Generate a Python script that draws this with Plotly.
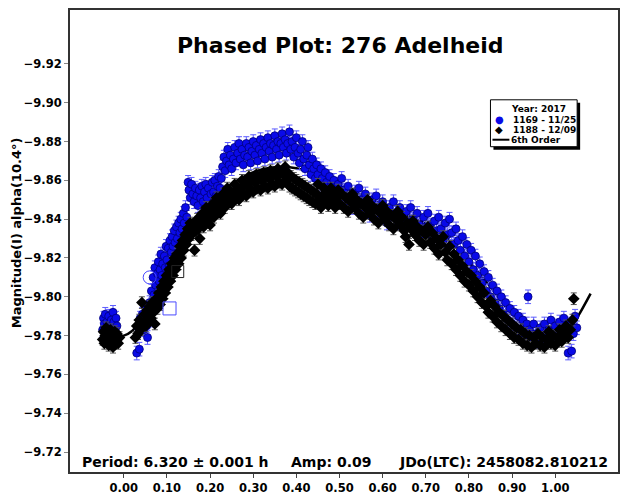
import plotly.graph_objects as go

# ---------------- data ----------------
blue_phase = [-0.049, -0.047, -0.045, -0.043, -0.041, -0.039, -0.037, -0.035, -0.033, -0.031, -0.029, -0.027, -0.025, -0.023, -0.020, -0.018, -0.016,
              0.030, 0.034, 0.036, 0.038, 0.041, 0.043, 0.046, 0.048, 0.051, 0.053, 0.055, 0.058, 0.060, 0.062, 0.064, 0.066, 0.068, 0.070,
              0.072, 0.074, 0.076, 0.078, 0.080, 0.082, 0.084, 0.086, 0.088, 0.090, 0.092, 0.094, 0.096, 0.098, 0.100,
              0.103, 0.105, 0.107, 0.110, 0.112, 0.114, 0.117, 0.119, 0.122, 0.124, 0.127, 0.130, 0.132, 0.135, 0.138, 0.140, 0.143, 0.146,
              0.149, 0.151, 0.154, 0.157, 0.160, 0.163, 0.166, 0.169, 0.172, 0.175, 0.178, 0.181, 0.184, 0.187, 0.190, 0.193, 0.196, 0.199,
              0.202, 0.205, 0.208, 0.211, 0.214, 0.217, 0.220, 0.223, 0.226, 0.229, 0.232, 0.235, 0.238, 0.241, 0.244, 0.247, 0.250,
              0.254, 0.257, 0.260, 0.264, 0.267, 0.270, 0.274, 0.277, 0.280, 0.284, 0.287, 0.290, 0.294, 0.297, 0.300, 0.304, 0.307, 0.310,
              0.314, 0.317, 0.320, 0.324, 0.327, 0.330, 0.334, 0.337, 0.340, 0.344, 0.347, 0.350, 0.354, 0.357, 0.360, 0.364, 0.367, 0.370,
              0.374, 0.377, 0.380, 0.384, 0.387, 0.390, 0.394, 0.397, 0.400, 0.404, 0.407, 0.410, 0.414, 0.417, 0.420, 0.424, 0.427, 0.430,
              0.434, 0.437, 0.440, 0.444, 0.447, 0.450, 0.454, 0.457, 0.460, 0.464, 0.467, 0.470, 0.474, 0.477, 0.480, 0.484, 0.487, 0.490,
              0.494, 0.497, 0.500, 0.505, 0.510, 0.515, 0.520, 0.525, 0.530, 0.535, 0.540, 0.545, 0.550, 0.555, 0.560, 0.565, 0.570, 0.575,
              0.580, 0.585, 0.590, 0.595, 0.600, 0.605, 0.610, 0.615, 0.620, 0.625, 0.630, 0.635, 0.640, 0.645, 0.650, 0.655, 0.660, 0.665,
              0.670, 0.675, 0.680, 0.685, 0.690, 0.695, 0.700, 0.705, 0.710, 0.715, 0.720, 0.725, 0.730, 0.735, 0.740, 0.745, 0.750, 0.755,
              0.760, 0.765, 0.770, 0.775, 0.780, 0.785, 0.790, 0.795, 0.800, 0.805, 0.810, 0.815, 0.820, 0.825, 0.830, 0.835, 0.840, 0.845,
              0.850, 0.855, 0.860, 0.865, 0.870, 0.875, 0.880, 0.885, 0.890, 0.895, 0.900, 0.905, 0.910, 0.915, 0.920, 0.925, 0.930, 0.934,
              0.937, 0.940, 0.945, 0.950, 0.955, 0.960, 0.965, 0.970, 0.975, 0.980, 0.985, 0.990, 0.995, 1.000, 1.005, 1.010, 1.015, 1.020,
              1.025, 1.030, 1.034, 1.038, 1.042, 1.046, 1.050]
blue_mag = [-9.783, -9.789, -9.786, -9.791, -9.782, -9.787, -9.784, -9.790, -9.786, -9.781, -9.788, -9.785, -9.792, -9.787, -9.783, -9.789, -9.785,
            -9.771, -9.784, -9.773, -9.789, -9.786, -9.791, -9.783, -9.788, -9.794, -9.785, -9.779, -9.792, -9.797, -9.788, -9.803, -9.796, -9.810, -9.801,
            -9.815, -9.806, -9.798, -9.812, -9.818, -9.808, -9.814, -9.822, -9.811, -9.817, -9.806, -9.821, -9.815, -9.826, -9.819,
            -9.825, -9.816, -9.829, -9.823, -9.831, -9.826, -9.834, -9.828, -9.836, -9.830, -9.838, -9.833, -9.840, -9.835, -9.843, -9.838, -9.846, -9.841,
            -9.859, -9.855, -9.851, -9.858, -9.853, -9.849, -9.856, -9.852, -9.847, -9.855, -9.851, -9.857, -9.849, -9.854, -9.858, -9.851, -9.856, -9.846,
            -9.853, -9.859, -9.854, -9.860, -9.852, -9.857, -9.862, -9.856, -9.861, -9.867, -9.872, -9.865, -9.870, -9.876, -9.868, -9.873, -9.866,
            -9.871, -9.877, -9.869, -9.874, -9.879, -9.871, -9.876, -9.868, -9.873, -9.879, -9.872, -9.877, -9.869, -9.875, -9.880, -9.873, -9.878, -9.870,
            -9.876, -9.881, -9.874, -9.879, -9.871, -9.877, -9.882, -9.875, -9.879, -9.872, -9.878, -9.883, -9.876, -9.880, -9.873, -9.879, -9.884, -9.877,
            -9.881, -9.874, -9.879, -9.885, -9.876, -9.880, -9.872, -9.877, -9.882, -9.874, -9.869, -9.876, -9.880, -9.871, -9.866, -9.873, -9.877, -9.868,
            -9.863, -9.871, -9.866, -9.861, -9.868, -9.863, -9.858, -9.866, -9.861, -9.856, -9.864, -9.859, -9.854, -9.862, -9.857, -9.852, -9.860, -9.855,
            -9.850, -9.858, -9.853, -9.861, -9.855, -9.849, -9.857, -9.852, -9.846, -9.854, -9.849, -9.856, -9.850, -9.845, -9.853, -9.847, -9.842, -9.850,
            -9.845, -9.852, -9.846, -9.841, -9.849, -9.843, -9.838, -9.846, -9.841, -9.849, -9.843, -9.838, -9.846, -9.840, -9.835, -9.844, -9.839, -9.846,
            -9.840, -9.835, -9.843, -9.837, -9.832, -9.841, -9.836, -9.843, -9.837, -9.831, -9.839, -9.834, -9.841, -9.835, -9.829, -9.838, -9.832, -9.840,
            -9.833, -9.827, -9.835, -9.829, -9.824, -9.831, -9.821, -9.827, -9.818, -9.824, -9.814, -9.821, -9.811, -9.817, -9.807, -9.813, -9.803, -9.810,
            -9.800, -9.806, -9.797, -9.803, -9.794, -9.800, -9.791, -9.797, -9.788, -9.794, -9.786, -9.792, -9.784, -9.790, -9.782, -9.788, -9.780, -9.786,
            -9.800, -9.783, -9.779, -9.786, -9.781, -9.777, -9.784, -9.780, -9.786, -9.778, -9.783, -9.788, -9.780, -9.785, -9.779, -9.787, -9.782, -9.789,
            -9.784, -9.771, -9.786, -9.772, -9.781, -9.790, -9.784]

black_phase = [-0.049, -0.047, -0.045, -0.043, -0.041, -0.039, -0.037, -0.035, -0.033, -0.031, -0.029, -0.027, -0.025, -0.023, -0.021, -0.019, -0.016, -0.013, -0.010,
               0.027, 0.030, 0.033, 0.036, 0.039, 0.042, 0.045, 0.048, 0.051, 0.054, 0.057, 0.060, 0.063, 0.066, 0.069, 0.072, 0.075, 0.078,
               0.081, 0.084, 0.087, 0.090, 0.093, 0.096, 0.099, 0.102, 0.105, 0.108, 0.111, 0.114, 0.117, 0.120, 0.123, 0.127, 0.130, 0.133,
               0.136, 0.139, 0.142, 0.145, 0.148, 0.151, 0.154, 0.157, 0.160, 0.164, 0.167, 0.170, 0.173, 0.176, 0.179, 0.182, 0.185, 0.188,
               0.191, 0.194, 0.197, 0.200, 0.203, 0.206, 0.209, 0.212, 0.215, 0.218, 0.221, 0.224, 0.227, 0.230, 0.234, 0.237, 0.240, 0.244,
               0.247, 0.250, 0.254, 0.257, 0.260, 0.264, 0.267, 0.270, 0.274, 0.277, 0.280, 0.284, 0.287, 0.290, 0.294, 0.297, 0.300, 0.304,
               0.307, 0.310, 0.314, 0.317, 0.320, 0.324, 0.327, 0.330, 0.334, 0.337, 0.340, 0.344, 0.347, 0.350, 0.354, 0.357, 0.360, 0.364,
               0.367, 0.370, 0.374, 0.377, 0.380, 0.384, 0.387, 0.390, 0.394, 0.397, 0.400, 0.404, 0.407, 0.410, 0.414, 0.417, 0.420, 0.424,
               0.427, 0.430, 0.434, 0.437, 0.440, 0.444, 0.447, 0.450, 0.454, 0.457, 0.460, 0.464, 0.467, 0.470, 0.474, 0.477, 0.480, 0.484,
               0.487, 0.490, 0.494, 0.497, 0.500, 0.505, 0.510, 0.515, 0.520, 0.525, 0.530, 0.535, 0.540, 0.545, 0.550, 0.555, 0.560, 0.565,
               0.570, 0.575, 0.580, 0.585, 0.590, 0.595, 0.600, 0.605, 0.610, 0.615, 0.620, 0.625, 0.630, 0.635, 0.640, 0.645, 0.650, 0.653,
               0.657, 0.661, 0.665, 0.670, 0.675, 0.680, 0.685, 0.690, 0.695, 0.700, 0.705, 0.710, 0.715, 0.720, 0.725, 0.730, 0.735, 0.740,
               0.745, 0.750, 0.755, 0.760, 0.765, 0.770, 0.775, 0.780, 0.785, 0.790, 0.795, 0.800, 0.805, 0.810, 0.815, 0.820, 0.825, 0.830,
               0.835, 0.840, 0.845, 0.850, 0.855, 0.860, 0.865, 0.870, 0.875, 0.880, 0.885, 0.890, 0.895, 0.900, 0.905, 0.910, 0.915, 0.920,
               0.925, 0.930, 0.935, 0.940, 0.945, 0.950, 0.955, 0.960, 0.965, 0.970, 0.975, 0.980, 0.985, 0.990, 0.995, 1.000, 1.005, 1.010,
               1.015, 1.020, 1.025, 1.030, 1.035, 1.040, 1.043]
black_mag = [-9.778, -9.782, -9.776, -9.780, -9.784, -9.777, -9.781, -9.775, -9.779, -9.783, -9.776, -9.780, -9.774, -9.778, -9.782, -9.777, -9.781, -9.776, -9.779,
             -9.779, -9.785, -9.781, -9.788, -9.783, -9.797, -9.786, -9.791, -9.785, -9.793, -9.788, -9.795, -9.789, -9.797, -9.792, -9.786, -9.799, -9.794,
             -9.802, -9.796, -9.805, -9.799, -9.808, -9.802, -9.811, -9.805, -9.814, -9.808, -9.817, -9.811, -9.820, -9.814, -9.822, -9.817, -9.826, -9.820,
             -9.829, -9.824, -9.832, -9.827, -9.835, -9.830, -9.838, -9.832, -9.837, -9.824, -9.834, -9.840, -9.835, -9.830, -9.838, -9.843, -9.836, -9.841,
             -9.846, -9.839, -9.844, -9.837, -9.842, -9.848, -9.841, -9.846, -9.851, -9.844, -9.849, -9.843, -9.848, -9.853, -9.846, -9.851, -9.856, -9.849,
             -9.854, -9.848, -9.853, -9.858, -9.851, -9.856, -9.850, -9.855, -9.860, -9.853, -9.858, -9.852, -9.857, -9.862, -9.855, -9.860, -9.854, -9.859,
             -9.863, -9.856, -9.861, -9.855, -9.860, -9.864, -9.857, -9.862, -9.856, -9.861, -9.865, -9.858, -9.863, -9.857, -9.862, -9.866, -9.859, -9.864,
             -9.858, -9.863, -9.867, -9.860, -9.864, -9.857, -9.862, -9.856, -9.861, -9.855, -9.860, -9.854, -9.859, -9.853, -9.858, -9.852, -9.857, -9.851,
             -9.856, -9.850, -9.855, -9.849, -9.854, -9.848, -9.853, -9.858, -9.851, -9.846, -9.852, -9.856, -9.849, -9.854, -9.847, -9.852, -9.856, -9.849,
             -9.853, -9.846, -9.851, -9.855, -9.848, -9.853, -9.846, -9.851, -9.844, -9.849, -9.853, -9.846, -9.850, -9.843, -9.848, -9.841, -9.846, -9.850,
             -9.843, -9.847, -9.840, -9.845, -9.838, -9.843, -9.847, -9.840, -9.844, -9.837, -9.842, -9.835, -9.840, -9.844, -9.837, -9.841, -9.834, -9.831,
             -9.838, -9.827, -9.835, -9.839, -9.832, -9.836, -9.829, -9.834, -9.827, -9.832, -9.836, -9.828, -9.833, -9.825, -9.830, -9.822, -9.827, -9.831,
             -9.823, -9.819, -9.826, -9.817, -9.822, -9.814, -9.819, -9.811, -9.816, -9.808, -9.813, -9.806, -9.811, -9.803, -9.808, -9.800, -9.805, -9.797,
             -9.802, -9.795, -9.792, -9.798, -9.790, -9.795, -9.787, -9.792, -9.785, -9.790, -9.783, -9.788, -9.781, -9.786, -9.779, -9.784, -9.778, -9.783,
             -9.776, -9.781, -9.775, -9.780, -9.774, -9.779, -9.776, -9.781, -9.775, -9.779, -9.774, -9.778, -9.782, -9.776, -9.780, -9.775, -9.779, -9.783,
             -9.777, -9.781, -9.785, -9.779, -9.783, -9.788, -9.799]

fit_phase = [-0.045, -0.02, 0.0, 0.02, 0.04, 0.06, 0.08, 0.10, 0.12, 0.14, 0.16, 0.18, 0.20, 0.22, 0.25, 0.28, 0.31, 0.34,
             0.37, 0.40, 0.43, 0.46, 0.50, 0.55, 0.60, 0.65, 0.70, 0.75, 0.80, 0.85, 0.90, 0.95, 1.00, 1.03, 1.053, 1.082]
fit_mag = [-9.7815, -9.7800, -9.7800, -9.7825, -9.7880, -9.7950, -9.8030, -9.8110, -9.8195, -9.8290, -9.8365, -9.8430, -9.8480,
           -9.8520, -9.8580, -9.8620, -9.8650, -9.8665, -9.8670, -9.8662, -9.8645, -9.8620, -9.8570, -9.8525, -9.8475, -9.8425,
           -9.8375, -9.8300, -9.8180, -9.8050, -9.7910, -9.7820, -9.7790, -9.7820, -9.7900, -9.8016]

# flagged points (open markers)
flag_blue_circle_phase = [0.060]
flag_blue_circle_mag = [-9.810]
flag_blue_square_phase = [0.106]
flag_blue_square_mag = [-9.794]
flag_black_square_phase = [0.125]
flag_black_square_mag = [-9.813]

blue_err = 0.0035
black_err = 0.0030

x_tick_vals = [0.0, 0.1, 0.2, 0.3, 0.4, 0.5, 0.6, 0.7, 0.8, 0.9, 1.0]
x_tick_text = ["0.00", "0.10", "0.20", "0.30", "0.40", "0.50", "0.60", "0.70", "0.80", "0.90", "1.00"]
y_tick_vals = [-9.92, -9.90, -9.88, -9.86, -9.84, -9.82, -9.80, -9.78, -9.76, -9.74, -9.72]

title_text = "Phased Plot: 276 Adelheid"
y_title = "Magnitude(I) alpha(10.4°)"
period_text = "Period: 6.320 ± 0.001 h"
amp_text = "Amp: 0.09"
jd_text = "JDo(LTC): 2458082.810212"
legend_title = "Year: 2017"
blue_name = "1169 - 11/25"
black_name = "1188 - 12/09"
fit_name = "6th Order"

FONT = "DejaVu Sans"
BLUE = "#0a0ae8"

# plot-area geometry (pixels) used to place the annotations / legend box
L, R, T, B = 70, 620, 10, 473


def px(xp):
    return (xp - L) / (R - L)


def py(yp):
    return (B - yp) / (B - T)


fig = go.Figure()

fig.add_trace(go.Scatter(x=fit_phase, y=fit_mag, mode="lines", name=fit_name, showlegend=False,
                         line=dict(color="black", width=2.5, shape="spline")))

fig.add_trace(go.Scatter(
    x=blue_phase, y=blue_mag, mode="markers", name=blue_name, showlegend=False,
    marker=dict(symbol="circle", size=8, color=BLUE, line=dict(color="#00007a", width=0.8)),
    error_y=dict(type="constant", value=blue_err, color="#5c5cff", thickness=1, width=3)))

fig.add_trace(go.Scatter(
    x=black_phase, y=black_mag, mode="markers", name=black_name, showlegend=False,
    marker=dict(symbol="diamond", size=9, color="black", line=dict(color="black", width=0)),
    error_y=dict(type="constant", value=black_err, color="#555555", thickness=1, width=3)))

fig.add_trace(go.Scatter(x=flag_blue_circle_phase, y=flag_blue_circle_mag, mode="markers", showlegend=False,
                         marker=dict(symbol="circle-open", size=13, color="#4a4aff", line=dict(width=1))))
fig.add_trace(go.Scatter(x=flag_blue_square_phase, y=flag_blue_square_mag, mode="markers", showlegend=False,
                         marker=dict(symbol="square-open", size=13, color="#4a4aff", line=dict(width=1))))
fig.add_trace(go.Scatter(x=flag_black_square_phase, y=flag_black_square_mag, mode="markers", showlegend=False,
                         marker=dict(symbol="square-open", size=12, color="#222222", line=dict(width=1))))

txt = lambda s, c="black": dict(family=FONT, size=s, color=c, weight="bold")

annotations = [
    dict(text=title_text, xref="paper", yref="paper", x=px(341.5), y=py(46),
         xanchor="center", yanchor="middle", showarrow=False, font=txt(22)),
    dict(text=y_title, xref="paper", yref="paper", x=px(16), y=py(233.5),
         xanchor="center", yanchor="middle", showarrow=False, textangle=-90, font=txt(13)),
    dict(text=period_text, xref="paper", yref="paper", x=px(80), y=py(463),
         xanchor="left", yanchor="middle", showarrow=False, font=txt(14)),
    dict(text=amp_text, xref="paper", yref="paper", x=px(290), y=py(463),
         xanchor="left", yanchor="middle", showarrow=False, font=txt(14)),
    dict(text=jd_text, xref="paper", yref="paper", x=px(612), y=py(463),
         xanchor="right", yanchor="middle", showarrow=False, font=txt(14)),
    # legend box contents
    dict(text=legend_title, xref="paper", yref="paper", x=px(511), y=py(109),
         xanchor="left", yanchor="middle", showarrow=False, font=txt(9)),
    dict(text="●", xref="paper", yref="paper", x=px(501), y=py(120),
         xanchor="center", yanchor="middle", showarrow=False, font=txt(10, BLUE)),
    dict(text=blue_name, xref="paper", yref="paper", x=px(513), y=py(120),
         xanchor="left", yanchor="middle", showarrow=False, font=txt(9)),
    dict(text="◆", xref="paper", yref="paper", x=px(501), y=py(130),
         xanchor="center", yanchor="middle", showarrow=False, font=txt(10)),
    dict(text=black_name, xref="paper", yref="paper", x=px(513), y=py(130),
         xanchor="left", yanchor="middle", showarrow=False, font=txt(9)),
    dict(text=fit_name, xref="paper", yref="paper", x=px(511), y=py(140),
         xanchor="left", yanchor="middle", showarrow=False, font=txt(9)),
]

shapes = [
    dict(type="rect", xref="paper", yref="paper", x0=px(495), x1=px(582), y0=py(103), y1=py(150),
         fillcolor="black", line=dict(width=0), layer="above"),
    dict(type="rect", xref="paper", yref="paper", x0=px(492), x1=px(579), y0=py(100), y1=py(147),
         fillcolor="white", line=dict(color="black", width=1), layer="above"),
    dict(type="line", xref="paper", yref="paper", x0=px(494), x1=px(511), y0=py(140), y1=py(140),
         line=dict(color="black", width=2), layer="above"),
]

fig.update_layout(
    width=620, height=495,
    margin=dict(l=L, r=620 - R, t=T, b=495 - B),
    paper_bgcolor="white", plot_bgcolor="white",
    showlegend=False,
    xaxis=dict(
        range=[-0.1247, 1.1455], showgrid=False, zeroline=False,
        showline=True, linecolor="#333333", linewidth=2, mirror=True,
        tickmode="array", tickvals=x_tick_vals, ticktext=x_tick_text,
        ticks="outside", ticklen=4, tickcolor="#444444",
        tickfont=txt(11.5),
    ),
    yaxis=dict(
        range=[-9.7097, -9.9478], showgrid=False, zeroline=False,
        showline=True, linecolor="#333333", linewidth=2, mirror=True,
        tickmode="array", tickvals=y_tick_vals, tickformat=".2f",
        ticks="outside", ticklen=4, tickcolor="#888888",
        tickfont=txt(11.5),
    ),
    annotations=annotations,
    shapes=shapes,
)

fig.write_html("out.html")
